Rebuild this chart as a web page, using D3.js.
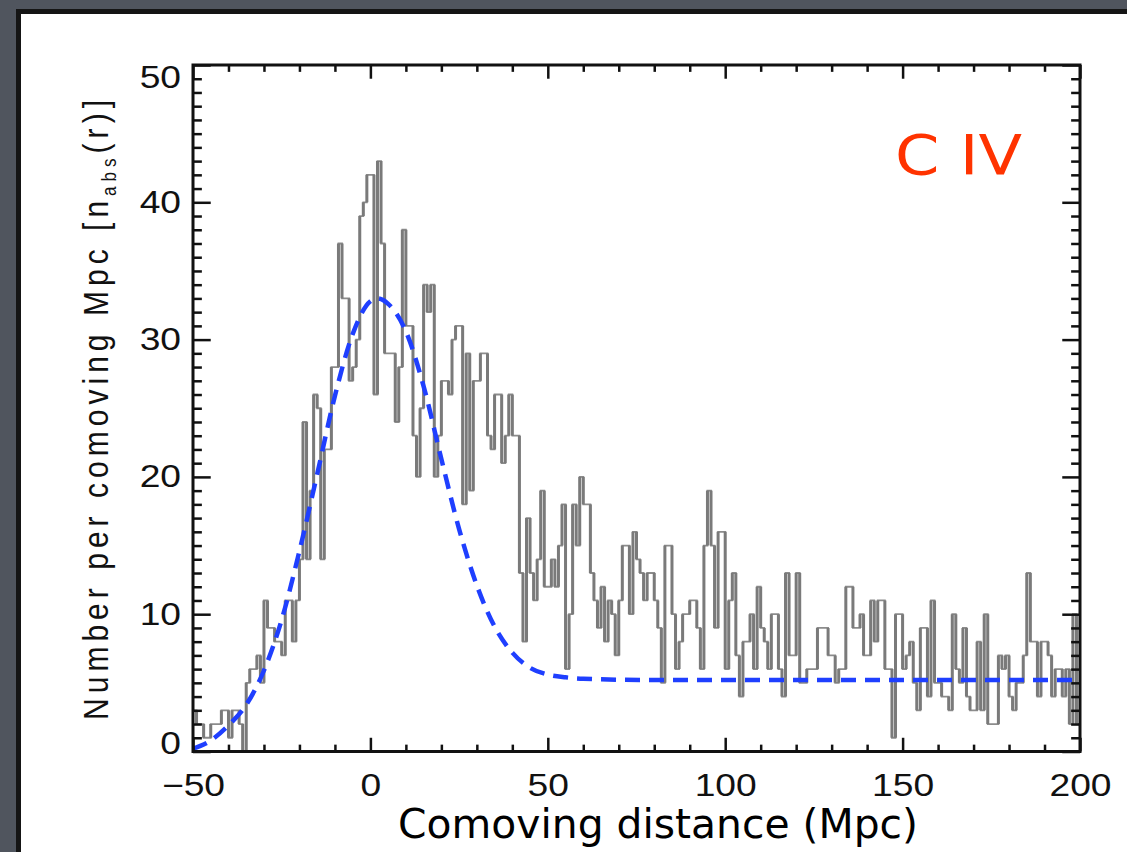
<!DOCTYPE html>
<html>
<head>
<meta charset="utf-8">
<script src="https://cdn.jsdelivr.net/npm/d3@7"></script>
<style>
  body { margin: 0; background: #50555e; }
  svg { display: block; }
  .axis text { font-family: "Liberation Sans", Arial, sans-serif; font-size: 31px; fill: #111; }
  .axis line { stroke: #111; stroke-width: 2.5px; }
</style>
</head>
<body>
<script>
// Histogram: counts per 1 Mpc bin, bins start at -50 and run to 199
let binStart = -50;
let counts = [
  3,2,2,1,1,2,2,2,3,3,
  1,3,3,2,0,5,6,6,7,5,
  11,9,9,8,8,7,11,11,8,11,
  14,24,14,19,26,25,14,22,22,28,
  28,37,33,33,27,28,30,39,40,42,
  42,26,43,37,29,29,29,24,28,38,
  31,31,23,20,25,34,32,34,20,23,
  27,27,26,30,31,31,18,29,19,27,
  27,29,29,23,22,26,26,21,23,26,
  23,23,13,8,17,13,11,14,19,12,
  12,14,12,15,18,6,10,18,15,20,
  18,18,13,11,9,12,8,11,10,7,
  11,15,15,10,16,14,13,11,13,13,
  11,9,5,15,15,10,6,8,10,10,
  11,11,9,6,15,19,15,9,16,16,
  6,11,13,7,4,8,8,10,6,12,
  9,8,6,10,10,6,4,13,7,7,
  13,5,5,6,6,6,9,9,9,7,
  7,5,6,6,12,12,9,9,10,7,
  7,11,8,11,11,6,6,1,10,10,
  6,7,8,5,3,9,9,4,11,5,
  5,4,4,3,10,6,5,9,4,3,
  3,8,3,10,2,2,2,7,6,7,
  4,3,5,5,7,13,8,8,4,8,
  8,7,4,6,6,4,6,2,10,2
];

// dashed model curve
let fitX = [-50,-45,-40,-35,-30,-25,-20,-15,-10,-5,0,2,5,10,15,20,25,30,35,40,45,50,55,60,80,120,160,200];
let fitY = [0.2,0.8,1.9,3.4,5.9,9.6,14.6,20.2,25.9,30.4,32.8,33.0,32.6,30.6,26.6,21.3,16.2,12.1,9.1,7.2,6.1,5.6,5.4,5.3,5.2,5.2,5.2,5.2];

let xTicks = [-50, 0, 50, 100, 150, 200];
let yTicks = [0, 10, 20, 30, 40, 50];

let W = 1127, H = 852;
let plot = {left: 193, right: 1080, top: 65, bottom: 751.5};

let svg = d3.select("body").append("svg")
  .attr("width", W)
  .attr("height", H);

// slide background + white panel
svg.append("rect").attr("width", W).attr("height", H).attr("fill", "#50555e");
svg.append("rect")
  .attr("x", 18.5).attr("y", 11.5)
  .attr("width", W).attr("height", H)
  .attr("fill", "#fff")
  .attr("stroke", "#151515")
  .attr("stroke-width", 5);

let x = d3.scaleLinear().domain([-50, 200]).range([plot.left, plot.right]);
let y = d3.scaleLinear().domain([0, 50]).range([plot.bottom, plot.top]);

let xMinor = d3.range(-50, 201, 10).filter(v => !xTicks.includes(v));
let yMinor = d3.range(0, 51, 1).filter(v => !yTicks.includes(v));

svg.append("clipPath").attr("id", "clip")
  .append("rect")
  .attr("x", plot.left).attr("y", plot.top)
  .attr("width", plot.right - plot.left).attr("height", plot.bottom - plot.top);

let hist = svg.append("g").attr("clip-path", "url(#clip)");

// histogram as a step line
let steps = counts.map((c, i) => ({x: binStart + i, y: c}));
steps.push({x: binStart + counts.length, y: counts[counts.length - 1]});

let stepLine = d3.line()
  .x(d => x(d.x))
  .y(d => y(d.y))
  .curve(d3.curveStepAfter);

hist.append("path")
  .datum(steps)
  .attr("d", stepLine)
  .attr("fill", "none")
  .attr("stroke", "#8c8c8c")
  .attr("stroke-width", 1.8);

// the vertical edges look heavier in the original
let risers = counts.slice(1).map((c, i) => ({x: binStart + i + 1, a: counts[i], b: c}));
hist.selectAll(".riser")
  .data(risers)
  .enter()
  .append("line")
  .attr("class", "riser")
  .attr("x1", d => x(d.x)).attr("x2", d => x(d.x))
  .attr("y1", d => y(d.a)).attr("y2", d => y(d.b))
  .attr("stroke", "#7a7a7a")
  .attr("stroke-width", 3);

// model curve
let fitLine = d3.line()
  .x((d, i) => x(fitX[i]))
  .y(d => y(d))
  .curve(d3.curveMonotoneX);

svg.append("path")
  .datum(fitY)
  .attr("d", fitLine)
  .attr("fill", "none")
  .attr("stroke", "#1f3fff")
  .attr("stroke-width", 4.5)
  .attr("stroke-dasharray", "15,9");

// axes: ticks point inward on all four sides
let xLen = 0.02 * (plot.bottom - plot.top), yLen = 0.02 * (plot.right - plot.left);

let gxb = svg.append("g").attr("class", "axis")
  .attr("transform", "translate(0," + plot.bottom + ")")
  .call(d3.axisBottom(x).tickValues(xTicks).tickSize(-xLen).tickPadding(22)
    .tickFormat(d => d < 0 ? "\u2212" + Math.abs(d) : d));
gxb.selectAll("text").attr("transform", "scale(1.2,1)");

svg.append("g").attr("class", "axis")
  .attr("transform", "translate(0," + plot.bottom + ")")
  .call(d3.axisBottom(x).tickValues(xMinor).tickSize(-xLen / 2).tickFormat(""));
svg.append("g").attr("class", "axis")
  .attr("transform", "translate(0," + plot.top + ")")
  .call(d3.axisTop(x).tickValues(xTicks).tickSize(-xLen).tickFormat(""));
svg.append("g").attr("class", "axis")
  .attr("transform", "translate(0," + plot.top + ")")
  .call(d3.axisTop(x).tickValues(xMinor).tickSize(-xLen / 2).tickFormat(""));

let gyl = svg.append("g").attr("class", "axis")
  .attr("transform", "translate(" + plot.left + ",0)")
  .call(d3.axisLeft(y).tickValues(yTicks).tickSize(-yLen).tickPadding(10));
gyl.selectAll("text")
  .attr("transform", "scale(1.2,1)")
  .attr("y", d => d === 50 ? 13 : d === 0 ? -8 : 0);

svg.append("g").attr("class", "axis")
  .attr("transform", "translate(" + plot.left + ",0)")
  .call(d3.axisLeft(y).tickValues(yMinor).tickSize(-yLen / 2).tickFormat(""));
svg.append("g").attr("class", "axis")
  .attr("transform", "translate(" + plot.right + ",0)")
  .call(d3.axisRight(y).tickValues(yTicks).tickSize(-yLen).tickFormat(""));
svg.append("g").attr("class", "axis")
  .attr("transform", "translate(" + plot.right + ",0)")
  .call(d3.axisRight(y).tickValues(yMinor).tickSize(-yLen / 2).tickFormat(""));

svg.selectAll(".axis .domain").remove();

// frame
svg.append("rect")
  .attr("x", plot.left).attr("y", plot.top)
  .attr("width", plot.right - plot.left).attr("height", plot.bottom - plot.top)
  .attr("fill", "none")
  .attr("stroke", "#111")
  .attr("stroke-width", 3);

// y axis title
let yTitle = svg.append("text")
  .attr("transform", "translate(108,410) scale(1.17,1) rotate(-90)")
  .attr("text-anchor", "middle")
  .attr("textLength", 620)
  .attr("lengthAdjust", "spacing")
  .style("font-family", "Liberation Sans, Arial, sans-serif")
  .style("font-size", "30px")
  .attr("fill", "#111");
yTitle.append("tspan").text("Number per comoving Mpc [n");
yTitle.append("tspan").attr("dy", 7).style("font-size", "17px").text("abs");
yTitle.append("tspan").attr("dy", -7).text("(r)]");

// x axis title
svg.append("text")
  .attr("x", 658).attr("y", 838)
  .attr("text-anchor", "middle")
  .attr("textLength", 520)
  .attr("lengthAdjust", "spacingAndGlyphs")
  .style("font-family", "DejaVu Sans, sans-serif")
  .style("font-size", "40px")
  .attr("fill", "#000")
  .text("Comoving distance (Mpc)");

// species label
svg.append("text")
  .attr("x", 895).attr("y", 174)
  .attr("textLength", 127)
  .attr("lengthAdjust", "spacingAndGlyphs")
  .style("font-family", "DejaVu Sans, sans-serif")
  .style("font-size", "56px")
  .attr("fill", "#ff3300")
  .text("C IV");
</script>
</body>
</html>
